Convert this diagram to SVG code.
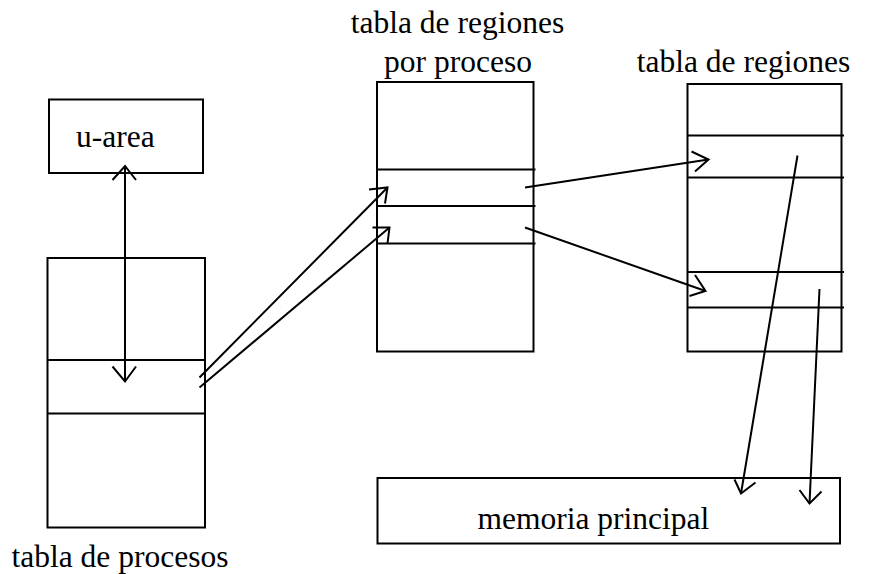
<svg xmlns="http://www.w3.org/2000/svg" width="871" height="574" viewBox="0 0 871 574">
  <style>
    .box { fill: #fff; stroke: #000; stroke-width: 2; }
    .row { fill: none; stroke: #000; stroke-width: 2; }
    .lbl { font-family: "Liberation Serif", "Times New Roman", serif; font-size: 31.5px; fill: #000; }
    .mid { text-anchor: middle; }
    #connectors path { fill: none; stroke: #000; stroke-width: 2; stroke-linejoin: miter; }
  </style>
  <rect width="871" height="574" fill="#fff"/>

  <!-- user area -->
  <g id="u-area">
    <rect class="box" x="49" y="99.5" width="154" height="73.5"/>
    <text class="lbl" x="76" y="147">u-area</text>
  </g>

  <!-- process table with one highlighted entry -->
  <g id="tabla-procesos">
    <rect class="box" x="47.5" y="258" width="157.5" height="269.5"/>
    <line class="row" x1="47.5" y1="360" x2="205" y2="360"/>
    <line class="row" x1="47.5" y1="413.5" x2="205" y2="413.5"/>
    <text class="lbl" x="11.5" y="566.5">tabla de procesos</text>
  </g>

  <!-- per-process region table -->
  <g id="tabla-regiones-proceso">
    <rect class="box" x="377" y="82" width="156.5" height="269.5"/>
    <line class="row" x1="377" y1="169.5" x2="535.5" y2="169.5"/>
    <line class="row" x1="377" y1="206" x2="535.5" y2="206"/>
    <line class="row" x1="377" y1="243.5" x2="535.5" y2="243.5"/>
    <text class="lbl mid" x="457.5" y="33">tabla de regiones</text>
    <text class="lbl mid" x="458" y="71.5">por proceso</text>
  </g>

  <!-- region table -->
  <g id="tabla-regiones">
    <rect class="box" x="687.5" y="84" width="154" height="267.5"/>
    <line class="row" x1="687.5" y1="135.5" x2="844" y2="135.5"/>
    <line class="row" x1="687.5" y1="177.5" x2="844" y2="177.5"/>
    <line class="row" x1="687.5" y1="272" x2="844" y2="272"/>
    <line class="row" x1="687.5" y1="307.5" x2="844" y2="307.5"/>
    <text class="lbl mid" x="743.5" y="71.5">tabla de regiones</text>
  </g>

  <!-- main memory -->
  <g id="memoria-principal">
    <rect class="box" x="377.5" y="478" width="462.5" height="65.5"/>
    <text class="lbl" x="477.5" y="528.5">memoria principal</text>
  </g>

  <!-- pointers between structures -->
  <g id="connectors">
    <!-- u-area <-> process entry -->
    <path d="M125 166 V381.5"/>
    <path d="M112.5 180 L125 166 L136 180"/>
    <path d="M112.5 366.5 L125 381.5 L136 366.5"/>

    <!-- process entry -> per-process region entries -->
    <path d="M199.5 377.5 L387.5 187.5"/>
    <path d="M369 189.5 L387.5 187.5 L385 203.5"/>
    <path d="M199.5 387.5 L389.5 227.5"/>
    <path d="M372.5 227.5 L389.5 227.5 L387.5 243.5"/>

    <!-- per-process entries -> region table entries -->
    <path d="M525 187.5 L708.5 159.5"/>
    <path d="M691.5 151.5 L708.5 159.5 L695 171.5"/>
    <path d="M525 227.5 L705.5 291"/>
    <path d="M695 275 L705.5 291 L689.5 296"/>

    <!-- region entries -> main memory -->
    <path d="M797.5 155.5 L741 493.5"/>
    <path d="M734.5 479.5 L741 493.5 L755.5 482.5"/>
    <path d="M819.5 289 L809.5 503.5"/>
    <path d="M799.5 490 L809.5 503.5 L821.5 491.5"/>
  </g>
</svg>
